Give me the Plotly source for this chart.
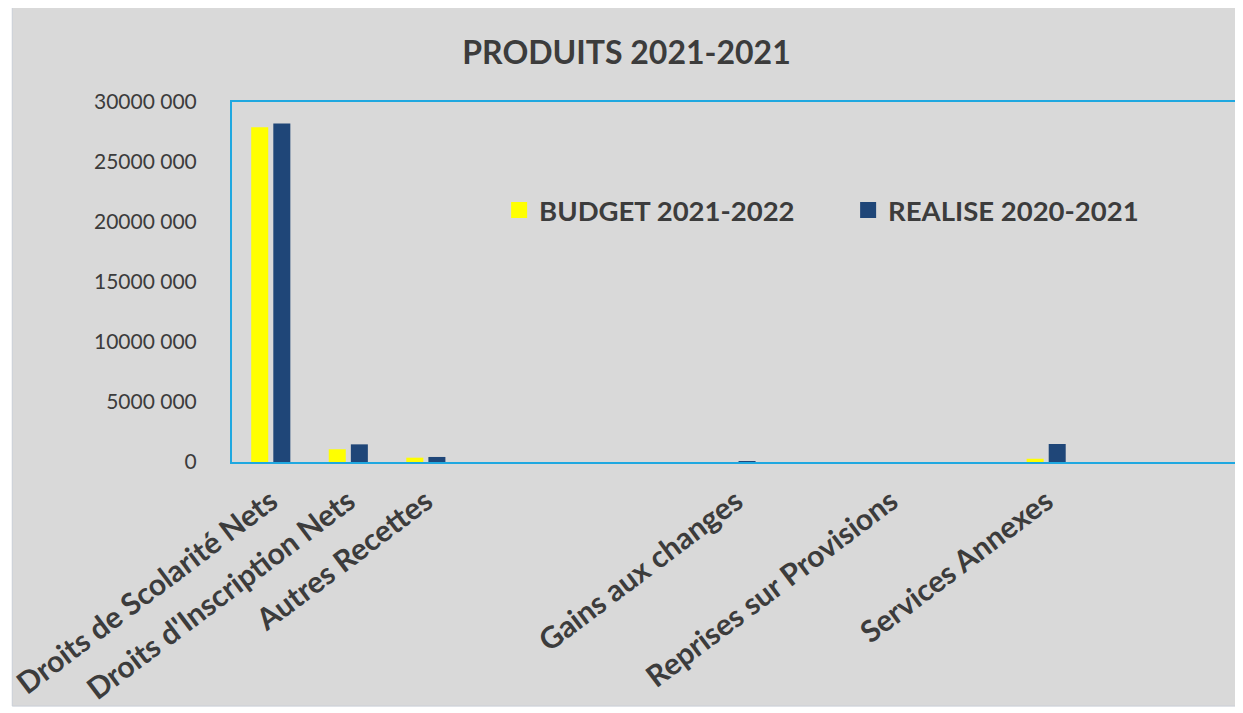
import plotly.graph_objects as go

categories = ["Droits de Scolarité Nets", "Droits d'Inscription Nets", "Autres Recettes",
              "", "", "", "Gains aux changes", "", "Reprises sur Provisions", "",
              "Services Annexes", "", ""]
budget_2021_2022 = [27900000, 1060000, 360000, None, None, None, None, None, 0, None, 270000, None, None]
realise_2020_2021 = [28200000, 1470000, 420000, None, None, None, 60000, None, 0, None, 1500000, None, None]
series_names = ["BUDGET 2021-2022", "REALISE 2020-2021"]
series_colors = ["#FFFF00", "#1F4678"]
y_ticks = [0, 5000000, 10000000, 15000000, 20000000, 25000000, 30000000]
y_tick_labels = ["0", "5000 000", "10000 000", "15000 000", "20000 000", "25000 000", "30000 000"]

x_idx = list(range(len(categories)))
FONT = "Lato, 'Open Sans', sans-serif"
TXT = "#3C3C3C"
BORDER = "#1FA8E0"

fig = go.Figure()
for vals, name, col in zip([budget_2021_2022, realise_2020_2021], series_names, series_colors):
    fig.add_trace(go.Bar(x=x_idx, y=vals, name=name, showlegend=False, legendgroup=name,
                         marker=dict(color=col, line=dict(width=0))))
# legend entries with larger square symbols
for name, col in zip(series_names, series_colors):
    fig.add_trace(go.Scatter(x=[None], y=[None], mode="markers", name=name, legendgroup=name,
                             marker=dict(symbol="square", size=17, color=col)))

fig.update_layout(
    width=1243, height=713,
    margin=dict(l=224, r=11, t=94, b=259),
    paper_bgcolor="white",
    plot_bgcolor="#D9D9D9",
    font=dict(family=FONT, color=TXT),
    barmode="group", bargap=0.43, bargroupgap=0.23,
    title=dict(text="<b>PRODUITS 2021-2021</b>", x=0.4976, xanchor="center",
               y=0.937, yanchor="middle", yref="container",
               font=dict(family=FONT, size=32, color=TXT)),
    legend=dict(orientation="h", x=0.265, y=0.768, xanchor="left", yanchor="top",
                bgcolor="rgba(0,0,0,0)", font=dict(family=FONT, size=27.5, color=TXT, weight="bold"),
                entrywidth=304, entrywidthmode="pixels"),
    showlegend=True,
    shapes=[dict(type="rect", xref="paper", yref="paper", x0=-0.218, x1=1.001,
                 y0=-0.678, y1=1.264, fillcolor="#D9D9D9",
                 line=dict(color="#C9CED6", width=1), layer="below")],
)
fig.update_xaxes(range=[-0.5, len(categories) - 0.5], tickmode="array", tickvals=x_idx,
                 ticktext=["<b>%s</b>" % c for c in categories], tickangle=-37,
                 tickfont=dict(family=FONT, size=30, color=TXT),
                 showline=True, linecolor=BORDER, linewidth=2, mirror=True, automargin=False,
                 showgrid=False, zeroline=False, ticks="", ticklabelstandoff=8)
fig.update_yaxes(range=[0, 30000000], tickmode="array", tickvals=y_ticks, ticktext=y_tick_labels,
                 tickfont=dict(family=FONT, size=21, color=TXT), automargin=False,
                 showline=True, linecolor=BORDER, linewidth=2, mirror=False,
                 showgrid=False, zeroline=False, ticks="", ticklabelstandoff=29)

fig.write_html("out.html")
